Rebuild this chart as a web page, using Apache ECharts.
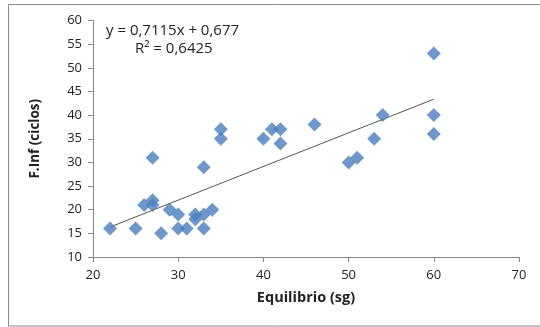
<!DOCTYPE html>
<html><head><meta charset="utf-8">
<script src="https://cdn.jsdelivr.net/npm/echarts@6/dist/echarts.min.js"></script>
<style>html,body{margin:0;padding:0;background:#fff}#c{width:540px;height:327px}</style>
</head><body><div id="c"></div>
<script>
const equilibrio = [22,25,26,27,27,27,28,29,30,30,31,32,32,33,33,33,34,35,35,40,41,42,42,46,50,51,53,54,60,60,60];
const fInf =       [16,16,21,31,22,21,15,20,19,16,16,19,18,29,16,19,20,35,37,35,37,37,34,38,30,31,35,40,53,40,36];
const slope = 0.7115, intercept = 0.677;
const eqLabel = 'y = 0,7115x + 0,677';
const r2Label = 'R² = 0,6425';
const xTitle = 'Equilibrio (sg)';
const yTitle = 'F.Inf (ciclos)';

const pts = equilibrio.map((x,i)=>[x,fInf[i]]);
const xmin = Math.min(...equilibrio), xmax = Math.max(...equilibrio);
const trend = [[xmin, slope*xmin+intercept],[xmax, slope*xmax+intercept]];
const font = '"Open Sans", sans-serif';
const chart = echarts.init(document.getElementById('c'));
chart.setOption({
  animation:false,
  backgroundColor:'#fff',
  grid:{left:93,right:21,top:20.5,bottom:70},
  xAxis:{type:'value',min:20,max:70,interval:10,
    axisLine:{lineStyle:{color:'#868686'}},
    axisTick:{show:true,length:5,lineStyle:{color:'#868686'}},
    splitLine:{show:false},
    axisLabel:{color:'#222',fontFamily:font,fontSize:13,margin:12},
    name:xTitle,nameLocation:'middle',nameGap:33,
    nameTextStyle:{color:'#222',fontFamily:font,fontSize:14.5,fontWeight:'bold'}},
  yAxis:{type:'value',min:10,max:60,interval:5,
    axisLine:{show:true,lineStyle:{color:'#868686'}},
    axisTick:{show:true,length:5,lineStyle:{color:'#868686'}},
    splitLine:{show:false},
    axisLabel:{color:'#222',fontFamily:font,fontSize:13,margin:11},
    name:yTitle,nameLocation:'middle',nameGap:51,
    nameTextStyle:{color:'#222',fontFamily:font,fontSize:13.5,fontWeight:'bold'}},
  graphic:[
    {type:'rect',shape:{x:8.5,y:4.5,width:560,height:321.5},style:{fill:'none',stroke:'#8a8a8a',lineWidth:1},silent:true},
    {type:'text',left:106,top:23,style:{text:eqLabel,font:'15px '+font,fill:'#222'}},
    {type:'text',left:135,top:41,style:{text:r2Label,font:'15px '+font,fill:'#222'}}
  ],
  series:[
    {type:'line',data:trend,symbol:'none',lineStyle:{color:'#555',width:1},z:1},
    {type:'scatter',data:pts,symbol:'diamond',symbolSize:14,itemStyle:{color:'#4a7ebb'},z:2}
  ]
});
</script></body></html>
